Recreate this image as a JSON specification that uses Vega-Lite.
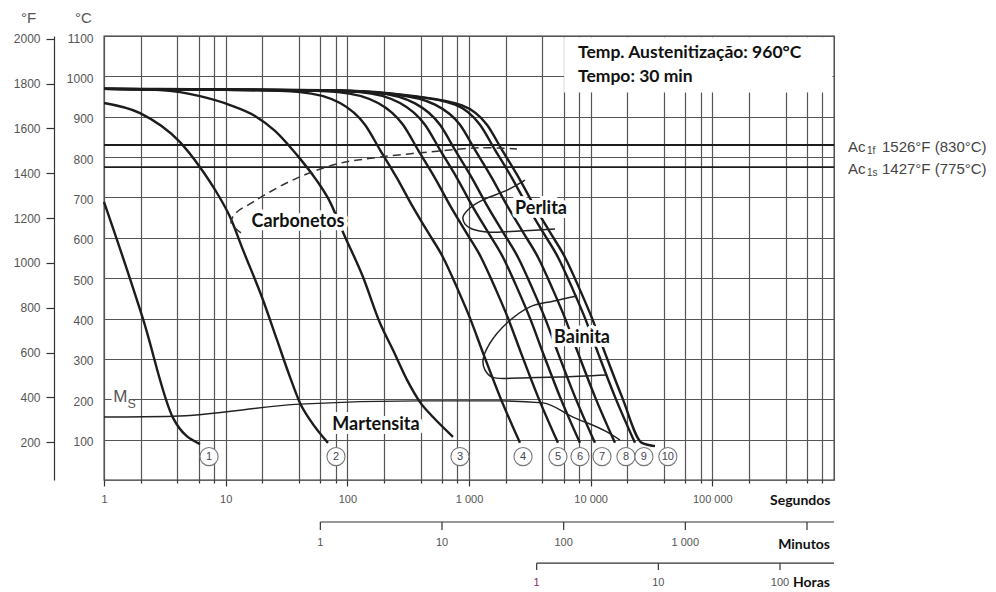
{
  "$schema": "https://vega.github.io/schema/vega-lite/v6.json",
  "width": 730,
  "height": 444,
  "autosize": {"type": "none"},
  "padding": {"left": 104, "top": 36, "right": 162, "bottom": 112},
  "background": "white",
  "config": {
    "view": {"stroke": "#333", "strokeWidth": 1.3},
    "axis": {"labelFont": "Liberation Sans", "titleFont": "Liberation Sans"}
  },
  "datasets": {
    "curves": [
      {"c": 1, "t": 1, "T": 689}, {"c": 1, "t": 1.279, "T": 595}, {"c": 1, "t": 2.092, "T": 399}, {"c": 1, "t": 3.692, "T": 154}, {"c": 1, "t": 6.152, "T": 89},
      {"c": 2, "t": 1, "T": 934}, {"c": 2, "t": 1.977, "T": 909}, {"c": 2, "t": 4.215, "T": 837}, {"c": 2, "t": 6.152, "T": 775}, {"c": 2, "t": 8.486, "T": 711}, {"c": 2, "t": 10.85, "T": 652}, {"c": 2, "t": 13.88, "T": 570}, {"c": 2, "t": 20.27, "T": 446}, {"c": 2, "t": 26.42, "T": 347}, {"c": 2, "t": 33.79, "T": 255}, {"c": 2, "t": 40.82, "T": 191}, {"c": 2, "t": 49.33, "T": 149}, {"c": 2, "t": 69.34, "T": 92},
      {"c": 3, "t": 1, "T": 969}, {"c": 3, "t": 2.886, "T": 966}, {"c": 3, "t": 4.215, "T": 961}, {"c": 3, "t": 6.152, "T": 951}, {"c": 3, "t": 10.85, "T": 929}, {"c": 3, "t": 17.42, "T": 902}, {"c": 3, "t": 25.44, "T": 865}, {"c": 3, "t": 38.58, "T": 805}, {"c": 3, "t": 54.24, "T": 748}, {"c": 3, "t": 72.03, "T": 689}, {"c": 3, "t": 92.1, "T": 614}, {"c": 3, "t": 134.5, "T": 503}, {"c": 3, "t": 185.5, "T": 389}, {"c": 3, "t": 237.3, "T": 322}, {"c": 3, "t": 309.4, "T": 248}, {"c": 3, "t": 395.6, "T": 193}, {"c": 3, "t": 505.9, "T": 156}, {"c": 3, "t": 738.8, "T": 107},
      {"c": 4, "t": 1, "T": 969}, {"c": 4, "t": 15.85, "T": 966}, {"c": 4, "t": 40.8, "T": 961}, {"c": 4, "t": 87.1, "T": 934}, {"c": 4, "t": 139.7, "T": 880}, {"c": 4, "t": 185.5, "T": 818}, {"c": 4, "t": 256, "T": 748}, {"c": 4, "t": 346.4, "T": 676}, {"c": 4, "t": 460, "T": 614}, {"c": 4, "t": 611, "T": 552}, {"c": 4, "t": 812, "T": 471}, {"c": 4, "t": 1019, "T": 401}, {"c": 4, "t": 1303, "T": 315}, {"c": 4, "t": 1798, "T": 206}, {"c": 4, "t": 2624, "T": 92},
      {"c": 5, "t": 1, "T": 969}, {"c": 5, "t": 32.5, "T": 966}, {"c": 5, "t": 83.8, "T": 961}, {"c": 5, "t": 178.8, "T": 934}, {"c": 5, "t": 286.8, "T": 880}, {"c": 5, "t": 380.8, "T": 818}, {"c": 5, "t": 525.6, "T": 748}, {"c": 5, "t": 711.2, "T": 676}, {"c": 5, "t": 944.4, "T": 614}, {"c": 5, "t": 1254, "T": 552}, {"c": 5, "t": 1667, "T": 471}, {"c": 5, "t": 2092, "T": 401}, {"c": 5, "t": 2675, "T": 315}, {"c": 5, "t": 3691, "T": 206}, {"c": 5, "t": 5387, "T": 92},
      {"c": 6, "t": 1, "T": 969}, {"c": 6, "t": 49.3, "T": 966}, {"c": 6, "t": 127, "T": 961}, {"c": 6, "t": 271, "T": 934}, {"c": 6, "t": 434.7, "T": 880}, {"c": 6, "t": 577.3, "T": 818}, {"c": 6, "t": 796.7, "T": 748}, {"c": 6, "t": 1078, "T": 676}, {"c": 6, "t": 1432, "T": 614}, {"c": 6, "t": 1901, "T": 552}, {"c": 6, "t": 2527, "T": 471}, {"c": 6, "t": 3171, "T": 401}, {"c": 6, "t": 4055, "T": 315}, {"c": 6, "t": 5595, "T": 206}, {"c": 6, "t": 8166, "T": 92},
      {"c": 7, "t": 1, "T": 969}, {"c": 7, "t": 65.5, "T": 966}, {"c": 7, "t": 168.7, "T": 960}, {"c": 7, "t": 360.1, "T": 933}, {"c": 7, "t": 577.5, "T": 880}, {"c": 7, "t": 766.9, "T": 818}, {"c": 7, "t": 1058, "T": 748}, {"c": 7, "t": 1432, "T": 676}, {"c": 7, "t": 1902, "T": 614}, {"c": 7, "t": 2526, "T": 552}, {"c": 7, "t": 3357, "T": 471}, {"c": 7, "t": 4213, "T": 401}, {"c": 7, "t": 5387, "T": 315}, {"c": 7, "t": 7433, "T": 206}, {"c": 7, "t": 10848, "T": 92},
      {"c": 8, "t": 1, "T": 969}, {"c": 8, "t": 60, "T": 965}, {"c": 8, "t": 246.3, "T": 955}, {"c": 8, "t": 525.8, "T": 930}, {"c": 8, "t": 843.4, "T": 880}, {"c": 8, "t": 1120, "T": 818}, {"c": 8, "t": 1545, "T": 748}, {"c": 8, "t": 2091, "T": 676}, {"c": 8, "t": 2777, "T": 614}, {"c": 8, "t": 3689, "T": 552}, {"c": 8, "t": 4902, "T": 471}, {"c": 8, "t": 6152, "T": 401}, {"c": 8, "t": 7866, "T": 315}, {"c": 8, "t": 10855, "T": 206}, {"c": 8, "t": 15841, "T": 92},
      {"c": 9, "t": 1, "T": 969}, {"c": 9, "t": 70, "T": 965}, {"c": 9, "t": 300, "T": 953}, {"c": 9, "t": 767.8, "T": 930}, {"c": 9, "t": 1231, "T": 880}, {"c": 9, "t": 1635, "T": 818}, {"c": 9, "t": 2257, "T": 748}, {"c": 9, "t": 3054, "T": 676}, {"c": 9, "t": 4055, "T": 614}, {"c": 9, "t": 5386, "T": 552}, {"c": 9, "t": 7158, "T": 471}, {"c": 9, "t": 8983, "T": 401}, {"c": 9, "t": 11486, "T": 315}, {"c": 9, "t": 15849, "T": 206}, {"c": 9, "t": 23131, "T": 92},
      {"c": 10, "t": 1, "T": 969}, {"c": 10, "t": 80, "T": 965}, {"c": 10, "t": 330, "T": 952}, {"c": 10, "t": 876.2, "T": 928}, {"c": 10, "t": 1405, "T": 880}, {"c": 10, "t": 1866, "T": 818}, {"c": 10, "t": 2575, "T": 748}, {"c": 10, "t": 3485, "T": 676}, {"c": 10, "t": 4628, "T": 614}, {"c": 10, "t": 6147, "T": 552}, {"c": 10, "t": 8169, "T": 471}, {"c": 10, "t": 10251, "T": 401}, {"c": 10, "t": 13108, "T": 315}, {"c": 10, "t": 18088, "T": 206}, {"c": 10, "t": 26397, "T": 92}, {"c": 10, "t": 33800, "T": 84}
    ],
    "regions": [
      {"r": "Perlita", "o": 1, "t": 2884, "T": 743}, {"r": "Perlita", "o": 2, "t": 2053, "T": 718}, {"r": "Perlita", "o": 3, "t": 1303, "T": 694}, {"r": "Perlita", "o": 4, "t": 1019, "T": 674}, {"r": "Perlita", "o": 5, "t": 893, "T": 652}, {"r": "Perlita", "o": 6, "t": 927, "T": 634}, {"r": "Perlita", "o": 7, "t": 1059, "T": 622}, {"r": "Perlita", "o": 8, "t": 1487, "T": 614}, {"r": "Perlita", "o": 9, "t": 2624, "T": 617}, {"r": "Perlita", "o": 10, "t": 5092, "T": 622},
      {"r": "Bainita", "o": 1, "t": 7727, "T": 456}, {"r": "Bainita", "o": 2, "t": 4898, "T": 443}, {"r": "Bainita", "o": 3, "t": 3172, "T": 429}, {"r": "Bainita", "o": 4, "t": 2053, "T": 389}, {"r": "Bainita", "o": 5, "t": 1487, "T": 339}, {"r": "Bainita", "o": 6, "t": 1303, "T": 297}, {"r": "Bainita", "o": 7, "t": 1353, "T": 273}, {"r": "Bainita", "o": 8, "t": 1545, "T": 255}, {"r": "Bainita", "o": 9, "t": 2624, "T": 253}, {"r": "Bainita", "o": 10, "t": 5598, "T": 255}, {"r": "Bainita", "o": 11, "t": 13614, "T": 260}
    ],
    "carb": [
      {"o": 1, "t": 13.36, "T": 612}, {"o": 2, "t": 11.06, "T": 639}, {"o": 3, "t": 12.4, "T": 664}, {"o": 4, "t": 15.85, "T": 684}, {"o": 5, "t": 20.27, "T": 704}, {"o": 6, "t": 38.56, "T": 748}, {"o": 7, "t": 82.2, "T": 783}, {"o": 8, "t": 185.5, "T": 800}, {"o": 9, "t": 478, "T": 813}, {"o": 10, "t": 1231, "T": 823}, {"o": 11, "t": 2479, "T": 820}
    ],
    "ms": [
      {"t": 1, "T": 156}, {"t": 3.69, "T": 158}, {"t": 40.8, "T": 188}, {"t": 395, "T": 196}, {"t": 1798, "T": 196}, {"t": 4055, "T": 191}, {"t": 7160, "T": 156}, {"t": 13614, "T": 119}, {"t": 17420, "T": 99}
    ],
    "ac": [
      {"T": 830, "sub": "1f", "txt": "1526°F (830°C)"},
      {"T": 775, "sub": "1s", "txt": "1427°F (775°C)"}
    ],
    "labels": [
      {"t": 39.3, "T": 639, "txt": "Carbonetos"},
      {"t": 3908, "T": 672, "txt": "Perlita"},
      {"t": 8490, "T": 352, "txt": "Bainita"},
      {"t": 172, "T": 136, "txt": "Martensita"}
    ],
    "circles": [
      {"n": "1", "t": 7.3, "T": 58}, {"n": "2", "t": 80.7, "T": 58}, {"n": "3", "t": 843, "T": 58}, {"n": "4", "t": 2780, "T": 58}, {"n": "5", "t": 5385, "T": 58},
      {"n": "6", "t": 8170, "T": 58}, {"n": "7", "t": 12390, "T": 58}, {"n": "8", "t": 19500, "T": 58}, {"n": "9", "t": 27400, "T": 58}, {"n": "10", "t": 43100, "T": 58}
    ],
    "minAxis": [
      {"t": 60, "lab": "1"}, {"t": 600, "lab": "10"}, {"t": 6000, "lab": "100"}, {"t": 60000, "lab": "1 000"}, {"t": 600000, "lab": ""}
    ],
    "hourAxis": [
      {"t": 3600, "lab": "1"}, {"t": 36000, "lab": "10"}, {"t": 360000, "lab": "100"}
    ],
    "box": [
      {"t0": 6050, "t1": 970000, "T0": 960, "T1": 1097}
    ],
    "boxText": [
      {"t": 7870, "T": 1058, "txt": "Temp. Austenitização: 960°C"},
      {"t": 7870, "T": 998, "txt": "Tempo: 30 min"}
    ]
  },
  "layer": [
    {
      "layer": [
        {
          "data": {"name": "curves"},
          "mark": {"type": "line", "color": "#1c1c1c", "strokeWidth": 2.4, "interpolate": "monotone"},
          "encoding": {
            "x": {
              "field": "t", "type": "quantitative",
              "scale": {"type": "log", "domain": [1, 1000000], "nice": false},
              "axis": {
                "values": [1, 2, 4, 6, 8, 10, 20, 40, 60, 80, 100, 200, 400, 600, 800, 1000, 2000, 4000, 6000, 8000, 10000, 20000, 40000, 60000, 80000, 100000, 200000, 400000, 600000, 800000],
                "grid": true, "gridColor": "#555", "gridWidth": 1.2,
                "domain": false,
                "ticks": true, "tickColor": "#333", "tickWidth": 1.2,
                "tickSize": {"condition": {"test": "indexof([1,10,100,1000,10000,100000], datum.value) >= 0", "value": 6}, "value": 3},
                "labelExpr": "indexof([1,10,100,1000,10000,100000], datum.value) < 0 ? '' : replace(format(datum.value, ','), ',', ' ')",
                "labelFontSize": 11, "labelColor": "#555", "labelPadding": 7, "labelFlush": false, "labelOverlap": false,
                "title": "Segundos", "titleFont": "Lato", "titleFontWeight": "bold", "titleFontSize": 14, "titleColor": "#111",
                "titleX": 726, "titleY": 20, "titleAlign": "right", "titleBaseline": "middle", "titleAnchor": "end"
              }
            },
            "y": {
              "field": "T", "type": "quantitative",
              "scale": {"domain": [0, 1100], "nice": false, "zero": false},
              "axis": {
                "values": [100, 200, 300, 400, 500, 600, 700, 800, 900, 1000, 1100],
                "format": "d",
                "grid": true, "gridColor": "#555", "gridWidth": 1.2,
                "domain": false, "ticks": false,
                "labelPadding": 11, "labelFontSize": 12, "labelColor": "#555", "labelOffset": 2,
                "title": "°C", "titleAngle": 0, "titleX": -21, "titleY": -19, "titleFontSize": 15, "titleFontWeight": "normal", "titleColor": "#555", "titleAlign": "center", "titleBaseline": "middle"
              }
            },
            "detail": {"field": "c", "type": "nominal"}
          }
        },
        {
          "data": {"name": "ac"},
          "mark": {"type": "rule", "color": "#1c1c1c", "strokeWidth": 1.8},
          "encoding": {"y": {"field": "T", "type": "quantitative"}}
        },
        {
          "data": {"name": "regions"},
          "mark": {"type": "line", "color": "#222", "strokeWidth": 1.5, "interpolate": "catmull-rom"},
          "encoding": {
            "x": {"field": "t", "type": "quantitative"},
            "y": {"field": "T", "type": "quantitative"},
            "detail": {"field": "r", "type": "nominal"},
            "order": {"field": "o", "type": "quantitative"}
          }
        },
        {
          "data": {"name": "carb"},
          "mark": {"type": "line", "color": "#333", "strokeWidth": 1.5, "strokeDash": [8, 5], "interpolate": "catmull-rom"},
          "encoding": {
            "x": {"field": "t", "type": "quantitative"},
            "y": {"field": "T", "type": "quantitative"},
            "order": {"field": "o", "type": "quantitative"}
          }
        },
        {
          "data": {"name": "ms"},
          "mark": {"type": "line", "color": "#222", "strokeWidth": 1.4, "interpolate": "monotone"},
          "encoding": {
            "x": {"field": "t", "type": "quantitative"},
            "y": {"field": "T", "type": "quantitative"}
          }
        },
        {
          "data": {"name": "box"},
          "mark": {"type": "rect", "fill": "white"},
          "encoding": {
            "x": {"field": "t0", "type": "quantitative"},
            "x2": {"field": "t1"},
            "y": {"field": "T0", "type": "quantitative"},
            "y2": {"field": "T1"}
          }
        },
        {
          "data": {"name": "boxText"},
          "mark": {"type": "text", "align": "left", "baseline": "middle", "font": "Lato", "fontWeight": "bold", "fontSize": 17.5, "color": "#111"},
          "encoding": {
            "x": {"field": "t", "type": "quantitative"},
            "y": {"field": "T", "type": "quantitative"},
            "text": {"field": "txt"}
          }
        },
        {
          "data": {"name": "labels"},
          "mark": {"type": "text", "align": "center", "baseline": "middle", "font": "Lato", "fontWeight": "bold", "fontSize": 18, "stroke": "white", "strokeWidth": 8, "strokeJoin": "round", "fill": "white"},
          "encoding": {
            "x": {"field": "t", "type": "quantitative"},
            "y": {"field": "T", "type": "quantitative"},
            "text": {"field": "txt"}
          }
        },
        {
          "data": {"name": "labels"},
          "mark": {"type": "text", "align": "center", "baseline": "middle", "font": "Lato", "fontWeight": "bold", "fontSize": 18, "color": "#111"},
          "encoding": {
            "x": {"field": "t", "type": "quantitative"},
            "y": {"field": "T", "type": "quantitative"},
            "text": {"field": "txt"}
          }
        },
        {
          "data": {"values": [{"t": 1.19, "T": 206, "txt": "M"}]},
          "mark": {"type": "text", "align": "left", "baseline": "middle", "font": "Liberation Sans", "fontSize": 17, "stroke": "white", "strokeWidth": 6, "strokeJoin": "round", "fill": "white"},
          "encoding": {
            "x": {"field": "t", "type": "quantitative"},
            "y": {"field": "T", "type": "quantitative"},
            "text": {"field": "txt"}
          }
        },
        {
          "data": {"values": [{"t": 1.19, "T": 206, "txt": "M"}]},
          "mark": {"type": "text", "align": "left", "baseline": "middle", "font": "Liberation Sans", "fontSize": 17, "color": "#555"},
          "encoding": {
            "x": {"field": "t", "type": "quantitative"},
            "y": {"field": "T", "type": "quantitative"},
            "text": {"field": "txt"}
          }
        },
        {
          "data": {"values": [{"t": 1.56, "T": 189, "txt": "S"}]},
          "mark": {"type": "text", "align": "left", "baseline": "middle", "font": "Liberation Sans", "fontSize": 12.5, "color": "#555"},
          "encoding": {
            "x": {"field": "t", "type": "quantitative"},
            "y": {"field": "T", "type": "quantitative"},
            "text": {"field": "txt"}
          }
        },
        {
          "data": {"name": "circles"},
          "mark": {"type": "point", "shape": "circle", "size": 330, "filled": true, "fill": "white", "stroke": "#777", "strokeWidth": 1.1, "opacity": 1},
          "encoding": {
            "x": {"field": "t", "type": "quantitative"},
            "y": {"field": "T", "type": "quantitative"}
          }
        },
        {
          "data": {"name": "circles"},
          "mark": {"type": "text", "align": "center", "baseline": "middle", "font": "Liberation Sans", "fontSize": 11, "color": "#445"},
          "encoding": {
            "x": {"field": "t", "type": "quantitative"},
            "y": {"field": "T", "type": "quantitative"},
            "text": {"field": "n"}
          }
        },
        {
          "data": {"name": "ac"},
          "mark": {"type": "text", "align": "left", "baseline": "middle", "dx": 14, "dy": 2, "font": "Liberation Sans", "fontSize": 15, "color": "#444"},
          "encoding": {
            "x": {"datum": 1000000, "type": "quantitative"},
            "y": {"field": "T", "type": "quantitative"},
            "text": {"value": "Ac"}
          }
        },
        {
          "data": {"name": "ac"},
          "mark": {"type": "text", "align": "left", "baseline": "middle", "dx": 33, "dy": 6, "font": "Liberation Sans", "fontSize": 10, "color": "#444"},
          "encoding": {
            "x": {"datum": 1000000, "type": "quantitative"},
            "y": {"field": "T", "type": "quantitative"},
            "text": {"field": "sub"}
          }
        },
        {
          "data": {"name": "ac"},
          "mark": {"type": "text", "align": "left", "baseline": "middle", "dx": 48, "dy": 2, "font": "Liberation Sans", "fontSize": 15, "color": "#444"},
          "encoding": {
            "x": {"datum": 1000000, "type": "quantitative"},
            "y": {"field": "T", "type": "quantitative"},
            "text": {"field": "txt"}
          }
        },
        {
          "data": {"name": "minAxis"},
          "mark": {"type": "rule", "color": "#333", "strokeWidth": 1.2},
          "encoding": {
            "x": {"field": "t", "type": "quantitative", "aggregate": "min"},
            "x2": {"datum": 1000000},
            "y": {"datum": -104, "type": "quantitative"}
          }
        },
        {
          "data": {"name": "minAxis"},
          "mark": {"type": "rule", "color": "#333", "strokeWidth": 1.2},
          "encoding": {
            "x": {"field": "t", "type": "quantitative"},
            "y": {"datum": -104, "type": "quantitative"},
            "y2": {"datum": -124}
          }
        },
        {
          "data": {"name": "minAxis"},
          "mark": {"type": "text", "align": "center", "baseline": "middle", "font": "Liberation Sans", "fontSize": 11, "color": "#555"},
          "encoding": {
            "x": {"field": "t", "type": "quantitative"},
            "y": {"datum": -156, "type": "quantitative"},
            "text": {"field": "lab"}
          }
        },
        {
          "data": {"name": "hourAxis"},
          "mark": {"type": "rule", "color": "#333", "strokeWidth": 1.2},
          "encoding": {
            "x": {"field": "t", "type": "quantitative", "aggregate": "min"},
            "x2": {"datum": 1000000},
            "y": {"datum": -206, "type": "quantitative"}
          }
        },
        {
          "data": {"name": "hourAxis"},
          "mark": {"type": "rule", "color": "#333", "strokeWidth": 1.2},
          "encoding": {
            "x": {"field": "t", "type": "quantitative"},
            "y": {"datum": -206, "type": "quantitative"},
            "y2": {"datum": -223}
          }
        },
        {
          "data": {"name": "hourAxis"},
          "mark": {"type": "text", "align": "center", "baseline": "middle", "font": "Liberation Sans", "fontSize": 11},
          "encoding": {
            "x": {"field": "t", "type": "quantitative"},
            "y": {"datum": -255, "type": "quantitative"},
            "text": {"field": "lab"},
            "color": {"condition": {"test": "datum.t == 3600", "value": "#8a2a6e"}, "value": "#555"}
          }
        },
        {
          "data": {"values": [{"txt": "Minutos", "T": -160}, {"txt": "Horas", "T": -255}]},
          "mark": {"type": "text", "align": "right", "baseline": "middle", "dx": -4, "font": "Lato", "fontWeight": "bold", "fontSize": 14, "color": "#111"},
          "encoding": {
            "x": {"datum": 1000000, "type": "quantitative"},
            "y": {"field": "T", "type": "quantitative"},
            "text": {"field": "txt"}
          }
        }
      ]
    },
    {
      "data": {"values": [{"F": 32}, {"F": 2012}]},
      "mark": {"type": "point", "opacity": 0},
      "encoding": {
        "y": {
          "field": "F", "type": "quantitative",
          "scale": {"domain": [32, 2012], "nice": false, "zero": false},
          "axis": {
            "orient": "left", "offset": 50, "format": "d",
            "values": [200, 400, 600, 800, 1000, 1200, 1400, 1600, 1800, 2000],
            "grid": false, "domain": true, "domainColor": "#333", "domainWidth": 1.2,
            "ticks": true, "tickSize": 8, "tickColor": "#333", "tickWidth": 1.2,
            "labelPadding": 6, "labelFontSize": 12, "labelColor": "#555",
            "title": "°F", "titleAngle": 0, "titleX": -26, "titleY": -19, "titleFontSize": 15, "titleFontWeight": "normal", "titleColor": "#555", "titleAlign": "center", "titleBaseline": "middle"
          }
        }
      }
    }
  ],
  "resolve": {"scale": {"y": "independent"}, "axis": {"y": "independent"}}
}
